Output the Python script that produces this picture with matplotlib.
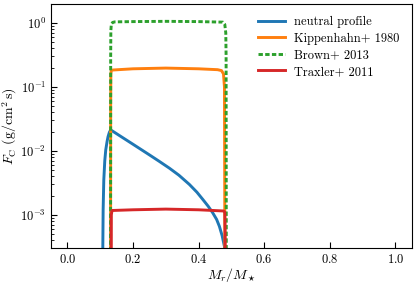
import matplotlib
matplotlib.use("Agg")
import matplotlib.pyplot as plt
import numpy as np

plt.rcParams['font.family'] = 'serif'
plt.rcParams['font.serif'] = ['cmr10', 'DejaVu Serif']
plt.rcParams['mathtext.fontset'] = 'cm'
plt.rcParams['axes.formatter.use_mathtext'] = True
plt.rcParams['axes.unicode_minus'] = False

# neutral profile
neutral_x = [0.1075, 0.108, 0.109, 0.111, 0.114, 0.117, 0.121, 0.124, 0.128, 0.132,
             0.16, 0.20, 0.25, 0.28, 0.311, 0.34, 0.372, 0.395, 0.413, 0.43, 0.443,
             0.455, 0.4636, 0.472, 0.479, 0.481]
neutral_y = [1e-5, 3e-4, 1.2e-3, 3.5e-3, 7.0e-3, 1.04e-2, 1.4e-2, 1.67e-2, 1.95e-2, 2.13e-2,
             1.72e-2, 1.27e-2, 8.67e-3, 6.87e-3, 5.37e-3, 4.17e-3, 2.99e-3, 2.26e-3, 1.74e-3, 1.35e-3, 1.08e-3,
             8.5e-4, 6.6e-4, 4.7e-4, 3.2e-4, 1e-5]

# Kippenhahn+ 1980
kipp_x = [0.1315, 0.132, 0.1325, 0.134, 0.14, 0.2, 0.3, 0.4, 0.458, 0.470, 0.476, 0.479, 0.480, 0.481]
kipp_y = [1e-5, 0.05, 0.16, 0.182, 0.184, 0.192, 0.197, 0.192, 0.186, 0.18, 0.16, 0.1, 1e-3, 1e-5]

# Brown+ 2013
brown_x = [0.1315, 0.132, 0.1325, 0.134, 0.138, 0.145, 0.2, 0.3, 0.4, 0.474, 0.480, 0.483, 0.484, 0.4845, 0.485]
brown_y = [1e-5, 0.3, 0.75, 0.96, 1.02, 1.04, 1.05, 1.06, 1.05, 1.03, 0.95, 0.7, 0.3, 1e-3, 1e-5]

# Traxler+ 2011
trax_x = [0.1335, 0.134, 0.136, 0.2, 0.3, 0.4, 0.476, 0.480, 0.481, 0.482]
trax_y = [1e-5, 1.0e-3, 1.17e-3, 1.2e-3, 1.23e-3, 1.2e-3, 1.15e-3, 1.1e-3, 5e-4, 1e-5]

labels = ['neutral profile', 'Kippenhahn+ 1980', 'Brown+ 2013', 'Traxler+ 2011']

fig = plt.figure(figsize=(4.16, 2.84), dpi=100)
ax = fig.add_axes([51/416, 1 - 248.3/284, (411.7-51)/416, (248.3-3.7)/284])

lw = 2.1
ax.plot(neutral_x, neutral_y, color='#1f77b4', lw=lw, label=labels[0])
ax.plot(kipp_x, kipp_y, color='#ff7f0e', lw=lw, label=labels[1])
ax.plot(brown_x, brown_y, color='#2ca02c', lw=lw, ls=(0, (1.5, 0.8)), label=labels[2])
ax.plot(trax_x, trax_y, color='#d62728', lw=lw, label=labels[3])

ax.set_yscale('log')
ax.set_xlim(-0.05, 1.05)
ax.set_ylim(3e-4, 2.0)
ax.set_xticks([0.0, 0.2, 0.4, 0.6, 0.8, 1.0])
ax.tick_params(which='both', direction='in', labelsize=9)
ax.tick_params(which='major', length=4)
ax.tick_params(which='minor', length=2)
ax.set_xlabel(r'$M_r/M_\star$', fontsize=10, labelpad=0)
ax.set_ylabel(r'$F_{\rm C}\ ({\rm g/cm^2\,s})$', fontsize=10, labelpad=1)

ax.legend(loc='upper right', frameon=False, fontsize=9, handlelength=2.2,
          handletextpad=0.7, borderaxespad=0.6, labelspacing=0.35)

fig.savefig('out.png', dpi=100)
